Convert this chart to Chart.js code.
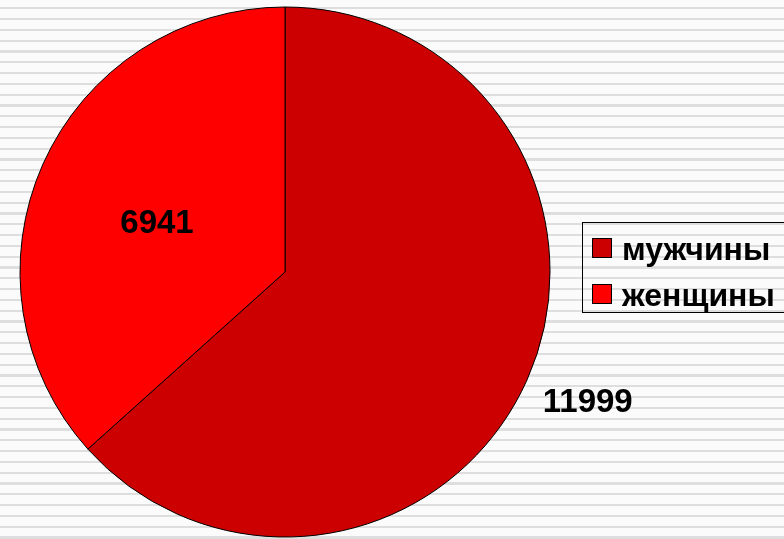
<!DOCTYPE html>
<html>
<head>
<meta charset="utf-8">
<script src="https://cdn.jsdelivr.net/npm/chart.js@4"></script>
<style>
  html, body { margin: 0; padding: 0; overflow: hidden; }
  body {
    width: 784px; height: 539px; position: relative;
    background: repeating-linear-gradient(to bottom,
      #fbfbfb 0px, #fbfbfb 7.2px, #dedede 7.2px, #dedede 9.4px, #fbfbfb 9.4px, #fbfbfb 10.8px);
  }
  #wrap { position: absolute; left: 0; top: 0; width: 784px; height: 539px; }
  .legend {
    position: absolute; left: 582px; top: 222px; width: 220px; height: 89px;
    border: 1px solid #000; font-family: "Liberation Sans", Arial, sans-serif;
    font-weight: bold; font-size: 32px; color: #000;
  }
  .legend .item { position: absolute; left: 9px; height: 36px; display: flex; align-items: center; white-space: nowrap; }
  .legend .box { width: 18px; height: 18px; border: 1px solid #000; margin-right: 10px; flex: none; }
  .legend .txt { position: relative; top: 1px; }
</style>
</head>
<body>
<div id="wrap"><canvas id="myChart" width="784" height="539"></canvas></div>
<div class="legend" id="legend"></div>
<script>
// data
const categories = ['мужчины', 'женщины'];
const values = [11999, 6941];
const colors = ['#cc0000', '#ff0000'];

// where the value labels sit: share of the radius and a small turn (radians)
const labelRadius = [1.24, 0.52];
const labelTurn = [-0.02, -0.04];

// values drawn next to slices
const sliceLabels = {
  id: 'sliceLabels',
  afterDatasetsDraw(chart) {
    const ctx = chart.ctx;
    const arcs = chart.getDatasetMeta(0).data;
    ctx.save();
    ctx.font = 'bold 33px "Liberation Sans", Arial, sans-serif';
    ctx.fillStyle = '#000';
    ctx.textAlign = 'center';
    ctx.textBaseline = 'alphabetic';
    arcs.forEach((arc, i) => {
      const p = arc.getProps(['x', 'y', 'startAngle', 'endAngle', 'outerRadius'], true);
      const mid = (p.startAngle + p.endAngle) / 2 + labelTurn[i];
      const r = p.outerRadius * labelRadius[i];
      // baseline is half a cap height below the label centre
      ctx.fillText(String(values[i]), p.x + Math.cos(mid) * r, p.y + Math.sin(mid) * r + 12);
    });
    ctx.restore();
  }
};

const ctx = document.getElementById('myChart').getContext('2d');
var myChart = new Chart(ctx, {
  type: 'pie',
  data: {
    labels: categories,
    datasets: [{
      data: values,
      backgroundColor: colors,
      borderColor: '#000',
      borderWidth: 1,
      hoverOffset: 0
    }]
  },
  options: {
    responsive: false,
    animation: false,
    radius: 265,
    layout: { padding: { left: 20, right: 234, top: 7, bottom: 2 } },
    plugins: {
      legend: { display: false },
      tooltip: { enabled: false }
    }
  },
  plugins: [sliceLabels]
});

// legend on the right
const legend = document.getElementById('legend');
categories.forEach((name, i) => {
  const item = document.createElement('div');
  item.className = 'item';
  item.style.top = (7 + i * 46) + 'px';
  item.innerHTML = '<span class="box" style="background:' + colors[i] + '"></span><span class="txt">' + name + '</span>';
  legend.appendChild(item);
});
</script>
</body>
</html>
